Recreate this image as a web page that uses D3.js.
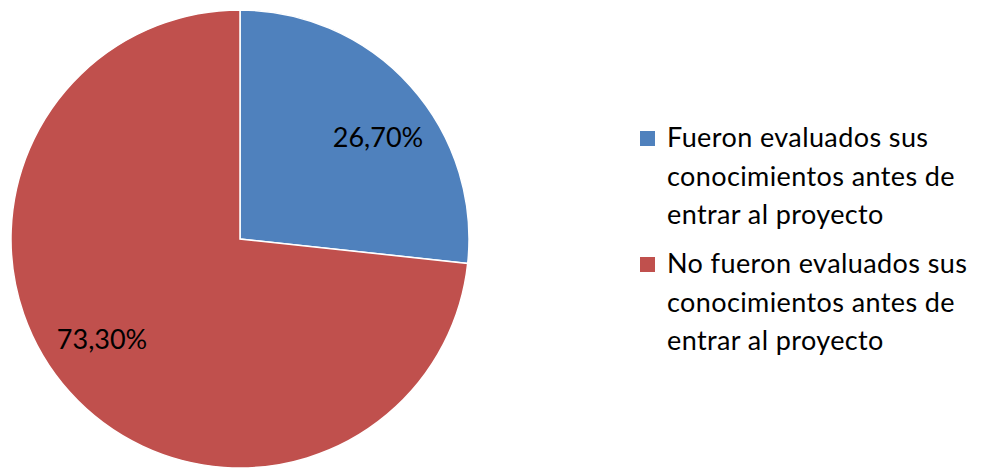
<!DOCTYPE html>
<html>
<head>
<meta charset="utf-8">
<script src="https://cdn.jsdelivr.net/npm/d3@7"></script>
<style>
  body { margin: 0; background: #fff; }
  svg { display: block; }
</style>
</head>
<body>
<div class="canvas"></div>
<script>
const w = 988;
const h = 469;

// data
const categories = [
  "Fueron evaluados sus conocimientos antes de entrar al proyecto",
  "No fueron evaluados sus conocimientos antes de entrar al proyecto"
];
const values = [26.7, 73.3];
const valueLabels = ["26,70%", "73,30%"];
const legendLines = [
  ["Fueron evaluados sus", "conocimientos antes de", "entrar al proyecto"],
  ["No fueron evaluados sus", "conocimientos antes de", "entrar al proyecto"]
];

const colors = d3.scaleOrdinal()
  .domain(categories)
  .range(["#4F81BD", "#C0504D"]);

const svg = d3.select(".canvas")
  .append("svg")
  .attr("width", w)
  .attr("height", h);

const cx = 240, cy = 239, r = 229;

const pie = d3.pie().sort(null).value(d => d.value);
const arcs = pie(categories.map((c, i) => ({name: c, value: values[i], label: valueLabels[i]})));

const arc = d3.arc().innerRadius(0).outerRadius(r);

const g = svg.append("g")
  .attr("transform", "translate(" + cx + "," + cy + ")");

g.selectAll("path")
  .data(arcs)
  .enter().append("path")
  .attr("d", arc)
  .attr("fill", d => colors(d.data.name))
  .attr("stroke", "#fff")
  .attr("stroke-width", 1.5);

// labels sit a little past the slice middle, like excel's best fit
g.selectAll("text")
  .data(arcs)
  .enter().append("text")
  .attr("transform", d => "translate(" + d3.pointRadial((d.startAngle + d.endAngle) / 2 + 0.1, 171) + ")")
  .attr("dy", "0.35em")
  .attr("text-anchor", "middle")
  .style("font-family", "Lato, sans-serif")
  .style("font-size", "27px")
  .style("fill", "#000")
  .text(d => d.data.label);

// legend
const legend = svg.append("g")
  .attr("transform", "translate(640,0)");

const item = legend.selectAll("g")
  .data(categories)
  .enter().append("g")
  .attr("transform", (d, i) => "translate(0," + (i * 126) + ")");

item.append("rect")
  .attr("x", 0)
  .attr("y", 131)
  .attr("width", 15)
  .attr("height", 15)
  .attr("fill", d => colors(d));

item.append("text")
  .style("font-family", "Lato, sans-serif")
  .style("font-size", "27px")
  .style("letter-spacing", "0.4px")
  .style("fill", "#000")
  .selectAll("tspan")
  .data((d, i) => legendLines[i])
  .enter().append("tspan")
  .attr("x", 27)
  .attr("y", (d, j) => 147 + j * 38.5)
  .text(d => d);
</script>
</body>
</html>
